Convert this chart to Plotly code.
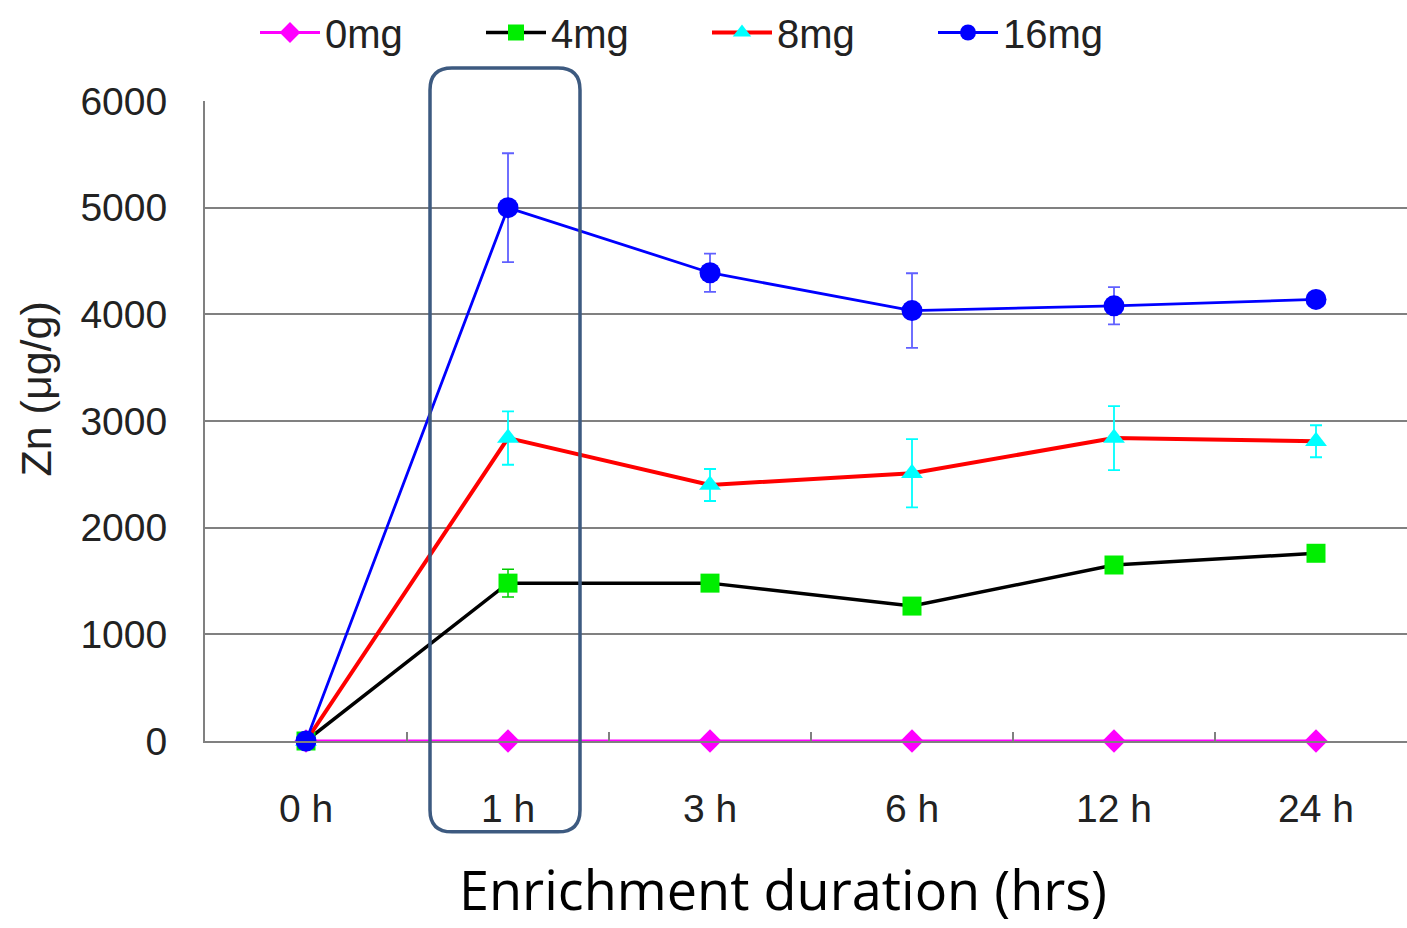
import plotly.graph_objects as go

times = ["0 h", "1 h", "3 h", "6 h", "12 h", "24 h"]

zn_0mg = [0, 0, 0, 0, 0, 0]
zn_4mg = [0, 1480, 1480, 1265, 1650, 1760]
zn_8mg = [0, 2840, 2400, 2510, 2840, 2810]
zn_16mg = [0, 5000, 4390, 4035, 4080, 4140]

err_0mg = [0, 0, 0, 0, 0, 0]
err_4mg = [0, 130, 0, 0, 0, 0]
err_8mg = [0, 250, 150, 320, 300, 150]
err_16mg = [0, 510, 180, 350, 175, 0]

yticks = [0, 1000, 2000, 3000, 4000, 5000, 6000]

W, H = 1407, 928
L, R, T, B = 205, 0, 100, 187
plot_w = W - L - R
plot_h = H - T - B
cat_px = 202.0
x_lo = -0.5
x_hi = x_lo + plot_w / cat_px

fig = go.Figure()

fig.add_trace(go.Scatter(
    x=times, y=zn_0mg, name="0mg", mode="lines+markers",
    line=dict(color="#ff00ff", width=3),
    marker=dict(symbol="diamond", size=18, color="#ff00ff"),
    error_y=dict(type="data", array=err_0mg, visible=False),
    cliponaxis=False,
))
fig.add_trace(go.Scatter(
    x=times, y=zn_4mg, name="4mg", mode="lines+markers",
    line=dict(color="#000000", width=3.5),
    marker=dict(symbol="square", size=19, color="#00ee00"),
    error_y=dict(type="data", array=err_4mg, color="#00cc00", thickness=1.5, width=6),
    cliponaxis=False,
))
fig.add_trace(go.Scatter(
    x=times, y=zn_8mg, name="8mg", mode="lines+markers",
    line=dict(color="#ff0000", width=4),
    marker=dict(symbol="triangle-up", size=19, color="#00ffff"),
    error_y=dict(type="data", array=err_8mg, color="#00ffff", thickness=1.8, width=6),
    cliponaxis=False,
))
fig.add_trace(go.Scatter(
    x=times, y=zn_16mg, name="16mg", mode="lines+markers",
    line=dict(color="#0000ff", width=2.8),
    marker=dict(symbol="circle", size=21, color="#0000ff"),
    error_y=dict(type="data", array=err_16mg, color="#6060ff", thickness=1.8, width=6),
    cliponaxis=False,
))

# rounded highlight box around "1 h"
bx0, bx1 = 1 - 78 / cat_px, 1 + 72 / cat_px
by1 = (741 - 67) / plot_h
by0 = (741 - 832) / plot_h
rx = 22 / cat_px
ry = 22 / plot_h
path = (
    f"M {bx0 + rx},{by1} L {bx1 - rx},{by1} Q {bx1},{by1} {bx1},{by1 - ry} "
    f"L {bx1},{by0 + ry} Q {bx1},{by0} {bx1 - rx},{by0} "
    f"L {bx0 + rx},{by0} Q {bx0},{by0} {bx0},{by0 + ry} "
    f"L {bx0},{by1 - ry} Q {bx0},{by1} {bx0 + rx},{by1} Z"
)
fig.add_shape(type="path", path=path, xref="x", yref="paper",
              line=dict(color="#3d5a80", width=3.5), layer="above")

fig.add_annotation(text="Enrichment duration (hrs)", xref="paper", yref="paper",
                   x=(783 - L) / plot_w, y=(741 - 889) / plot_h,
                   xanchor="center", yanchor="middle", showarrow=False,
                   font=dict(family="Open Sans", size=54, color="#000000"))
fig.add_annotation(text="Zn (μg/g)", xref="paper", yref="paper",
                   x=(36 - L) / plot_w, y=(741 - 389) / plot_h, textangle=-90,
                   xanchor="center", yanchor="middle", showarrow=False,
                   font=dict(family="Liberation Sans", size=43, color="#222222"))

fig.update_layout(
    width=W, height=H,
    margin=dict(l=L, r=R, t=T, b=B),
    paper_bgcolor="white", plot_bgcolor="white",
    font=dict(family="Liberation Sans", size=38, color="#222222"),
    showlegend=True,
    legend=dict(orientation="h", x=(255 - L) / plot_w, y=1 + (100 - 31) / plot_h,
                xanchor="left", yanchor="middle", entrywidth=151,
                font=dict(family="Liberation Sans", size=40, color="#222222"),
                bgcolor="rgba(0,0,0,0)", tracegroupgap=0, itemwidth=60),
    xaxis=dict(type="category", categoryorder="array", categoryarray=times,
               range=[x_lo, x_hi], showgrid=False, zeroline=False,
               showline=True, linecolor="#808080", linewidth=2,
               ticks="inside", tickson="boundaries", ticklen=9,
               tickcolor="#808080", tickwidth=1.5,
               ticklabelstandoff=32,
               tickfont=dict(family="Liberation Sans", size=39, color="#222222")),
    yaxis=dict(range=[0, 6000], tickvals=yticks, showgrid=True,
               gridcolor="#808080", gridwidth=2, zeroline=False,
               showline=True, linecolor="#808080", linewidth=2,
               ticks="inside", ticklen=5, tickcolor="#808080",
               ticklabelstandoff=28,
               tickfont=dict(family="Liberation Sans", size=39, color="#222222")),
)

fig.write_html("out.html")
